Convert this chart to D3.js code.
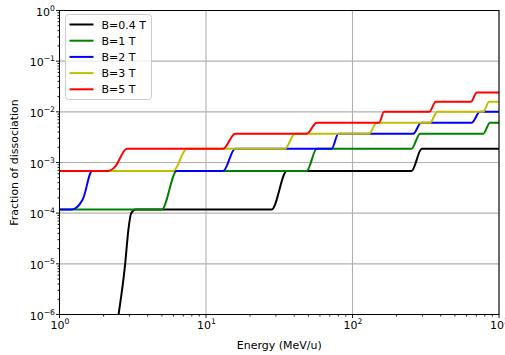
<!DOCTYPE html>
<html>
<head>
<meta charset="utf-8">
<script src="https://cdn.jsdelivr.net/npm/d3@7"></script>
<style>
  body { margin: 0; background: #fff; }
  svg text { font-family: "DejaVu Sans", sans-serif; }
</style>
</head>
<body>
<div id="chart"></div>
<script>
// fraction levels
const L0 = 1.18e-4, L1 = 6.8e-4, L2 = 1.87e-3, L3 = 3.7e-3;
const L4 = 6.1e-3, L5 = 1.0e-2, L6 = 1.58e-2, L7 = 2.4e-2;

// B = 0.4 T
const energy04 = [2.50, 2.80, 2.95, 3.08, 3.30, 28.1, 35.6, 253, 297, 1000];
const frac04   = [8e-7, 9.3e-6, 4.6e-5, 9.8e-5, L0, L0, L1, L1, L2, L2];
// B = 1 T
const energy1 = [1, 4.99, 6.31, 48.7, 57.0, 253, 289, 781, 868, 1000];
const frac1   = [L0, L0, L1, L1, L2, L2, L3, L3, L4, L4];
// B = 2 T
const energy2 = [1, 1.21, 1.44, 1.67, 13.1, 15.8, 72.1, 80.0, 260, 294, 651, 742, 1000];
const frac2   = [L0, L0, 1.86e-4, L1, L1, L2, L2, L3, L3, L4, L4, L5, L5];
// B = 3 T
const energy3 = [1, 5.98, 7.39, 34.6, 40.5, 130, 146, 338, 379, 781, 855, 1000];
const frac3   = [L1, L1, L2, L2, L3, L3, L4, L4, L5, L5, L6, L6];
// B = 5 T
const energy5 = [1, 2.15, 2.39, 2.88, 13.1, 15.8, 48.7, 57.0, 152, 164, 334, 370, 644, 705, 1000];
const frac5   = [L1, L1, 8.2e-4, L2, L2, L3, L3, L4, L4, L5, L5, L6, L6, L7, L7];

const seriesNames = ["B=0.4 T", "B=1 T", "B=2 T", "B=3 T", "B=5 T"];
const seriesColors = ["#000000", "#008000", "#0000ff", "#bfbf00", "#ff0000"];
const seriesX = [energy04, energy1, energy2, energy3, energy5];
const seriesY = [frac04, frac1, frac2, frac3, frac5];

const xTickExp = [0, 1, 2, 3];
const yTickExp = [0, -1, -2, -3, -4, -5, -6];

// plot box (don't call these top/left - window.top is read only)
var W = 505, H = 355;
var pL = 59.5, pR = 499, pT = 10.5, pB = 314.5;

var svg = d3.select("#chart").append("svg")
    .attr("width", W)
    .attr("height", H);

var x = d3.scaleLog().domain([1, 1000]).range([pL, pR]);
var y = d3.scaleLog().domain([1e-6, 1]).range([pB, pT]);

// grid lines (major only)
var grid = svg.append("g");
xTickExp.forEach(function(e) {
    grid.append("line")
        .attr("x1", x(Math.pow(10, e))).attr("x2", x(Math.pow(10, e)))
        .attr("y1", pT).attr("y2", pB)
        .attr("stroke", "#b0b0b0").attr("stroke-width", 1.1);
});
yTickExp.forEach(function(e) {
    grid.append("line")
        .attr("x1", pL).attr("x2", pR)
        .attr("y1", y(Math.pow(10, e))).attr("y2", y(Math.pow(10, e)))
        .attr("stroke", "#b0b0b0").attr("stroke-width", 1.1);
});

svg.append("clipPath").attr("id", "plotclip")
    .append("rect")
    .attr("x", pL).attr("y", pT)
    .attr("width", pR - pL).attr("height", pB - pT);

// the curves
var line = d3.line()
    .x(function(d) { return x(d[0]); })
    .y(function(d) { return y(d[1]); })
    .curve(d3.curveMonotoneX);

var curves = svg.append("g").attr("clip-path", "url(#plotclip)");
seriesNames.forEach(function(name, i) {
    var pts = seriesX[i].map(function(v, j) { return [v, seriesY[i][j]]; });
    curves.append("path")
        .attr("d", line(pts))
        .attr("fill", "none")
        .attr("stroke", seriesColors[i])
        .attr("stroke-width", 2)
        .attr("stroke-linejoin", "round")
        .attr("stroke-linecap", "square");
});

// axes with minor ticks
var minorX = [], minorY = [];
for (var e = 0; e < 3; e++) {
    for (var k = 2; k < 10; k++) minorX.push(k * Math.pow(10, e));
}
for (var e = -6; e < 0; e++) {
    for (var k = 2; k < 10; k++) minorY.push(k * Math.pow(10, e));
}

var ticks = svg.append("g").attr("stroke", "#000").attr("stroke-width", 0.9);
minorX.forEach(function(v) {
    ticks.append("line").attr("x1", x(v)).attr("x2", x(v))
        .attr("y1", pB).attr("y2", pB + 2);
});
minorY.forEach(function(v) {
    ticks.append("line").attr("x1", pL).attr("x2", pL - 2)
        .attr("y1", y(v)).attr("y2", y(v));
});
xTickExp.forEach(function(e) {
    ticks.append("line").attr("x1", x(Math.pow(10, e))).attr("x2", x(Math.pow(10, e)))
        .attr("y1", pB).attr("y2", pB + 3.5);
});
yTickExp.forEach(function(e) {
    ticks.append("line").attr("x1", pL).attr("x2", pL - 3.5)
        .attr("y1", y(Math.pow(10, e))).attr("y2", y(Math.pow(10, e)));
});

// frame
svg.append("rect")
    .attr("x", pL).attr("y", pT)
    .attr("width", pR - pL).attr("height", pB - pT)
    .attr("fill", "none").attr("stroke", "#000").attr("stroke-width", 1);

function expLabel(e) { return e < 0 ? "\u2212" + (-e) : String(e); }

// tick labels (10^3 runs off the right edge, same as the original)
xTickExp.forEach(function(e) {
    var t = svg.append("text")
        .attr("x", x(Math.pow(10, e)) + 0.5)
        .attr("y", pB + 14)
        .attr("text-anchor", "middle")
        .attr("font-size", 11)
        .attr("fill", "#000");
    t.append("tspan").text("10");
    t.append("tspan").attr("font-size", 7.7).attr("dy", -5).text(expLabel(e));
});
yTickExp.forEach(function(e) {
    var t = svg.append("text")
        .attr("x", 55)
        .attr("y", y(Math.pow(10, e)) + 5)
        .attr("text-anchor", "end")
        .attr("font-size", 11)
        .attr("fill", "#000");
    t.append("tspan").text("10");
    t.append("tspan").attr("font-size", 7.7).attr("dy", -5).text(expLabel(e));
});

// axis titles
svg.append("text")
    .attr("x", (pL + pR) / 2)
    .attr("y", 349)
    .attr("text-anchor", "middle")
    .attr("font-size", 11)
    .attr("fill", "#000")
    .text("Energy (MeV/u)");

svg.append("text")
    .attr("transform", "translate(18," + ((pT + pB) / 2) + ") rotate(-90)")
    .attr("text-anchor", "middle")
    .attr("font-size", 11)
    .attr("fill", "#000")
    .text("Fraction of dissociation");

// legend
var legend = svg.append("g");
legend.append("rect")
    .attr("x", 65.5).attr("y", 14.5)
    .attr("width", 86).attr("height", 85)
    .attr("rx", 3)
    .attr("fill", "#fff").attr("fill-opacity", 0.8)
    .attr("stroke", "#cccccc").attr("stroke-width", 1);

seriesNames.forEach(function(name, i) {
    var ly = 24.5 + i * 16.2;
    legend.append("line")
        .attr("x1", 69.5).attr("x2", 93.5)
        .attr("y1", ly).attr("y2", ly)
        .attr("stroke", seriesColors[i]).attr("stroke-width", 2);
    legend.append("text")
        .attr("x", 101.5).attr("y", ly + 4)
        .attr("font-size", 11)
        .attr("fill", "#000")
        .text(name);
});
</script>
</body>
</html>
